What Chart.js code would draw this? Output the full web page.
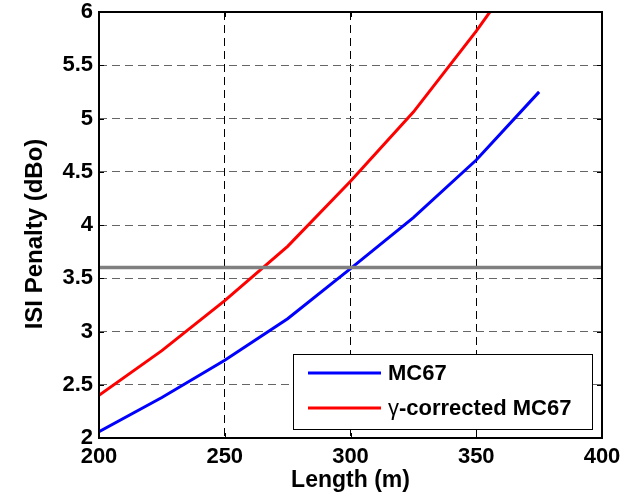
<!DOCTYPE html>
<html>
<head>
<meta charset="utf-8">
<script src="https://cdn.jsdelivr.net/npm/chart.js@4.4.1/dist/chart.umd.min.js"></script>
<style>
  html, body { margin: 0; padding: 0; background: #fff; }
  canvas { display: block; }
</style>
</head>
<body>
<canvas id="isi-chart" width="630" height="501"></canvas>
<script>
// fibre length (m) and ISI penalty (dBo) for both models
const lengths = [200, 225, 250, 275, 300, 325, 350, 375];
const mc67 = [2.06, 2.38, 2.73, 3.12, 3.59, 4.07, 4.61, 5.25];
const gammaMc67 = [2.40, 2.82, 3.29, 3.80, 4.41, 5.06, 5.82, 6.65];
const threshold = 3.6;
const seriesLabels = ['MC67', 'γ-corrected MC67'];
const seriesColors = ['#0000ff', '#ff0000'];
const xTicks = [200, 250, 300, 350, 400];
const yTicks = [2, 2.5, 3, 3.5, 4, 4.5, 5, 5.5, 6];

const FONT = "'Liberation Sans', Arial, sans-serif";
const toPoints = ys => ys.map((y, i) => ({ x: lengths[i], y: y }));

// box around the axes with small inward ticks on every side
const framePlugin = {
  id: 'frame',
  afterDatasetsDraw(chart) {
    const { ctx, chartArea: a, scales } = chart;
    ctx.save();
    ctx.strokeStyle = '#000';
    ctx.lineWidth = 1;
    ctx.beginPath();
    xTicks.forEach(v => {
      const px = Math.round(scales.x.getPixelForValue(v)) + 0.5;
      ctx.moveTo(px, a.bottom); ctx.lineTo(px, a.bottom - 5);
      ctx.moveTo(px, a.top); ctx.lineTo(px, a.top + 5);
    });
    yTicks.forEach(v => {
      const py = Math.round(scales.y.getPixelForValue(v)) + 0.5;
      ctx.moveTo(a.left, py); ctx.lineTo(a.left + 5, py);
      ctx.moveTo(a.right, py); ctx.lineTo(a.right - 5, py);
    });
    ctx.stroke();
    ctx.lineWidth = 2;
    ctx.strokeRect(a.left, a.top, a.right - a.left, a.bottom - a.top);
    ctx.restore();
  }
};

// label text where a leading greek letter is set in regular weight
function drawLegendText(ctx, text, x, y) {
  let cx = x;
  if (/^[α-ω]/.test(text)) {
    ctx.font = '22px ' + FONT;
    ctx.fillText(text[0], cx, y);
    cx += ctx.measureText(text[0]).width;
    text = text.slice(1);
  }
  ctx.font = 'bold 22px ' + FONT;
  ctx.fillText(text, cx, y);
}

// axis titles and the boxed legend in the lower right corner
const labelsPlugin = {
  id: 'labels',
  afterDraw(chart) {
    const { ctx, chartArea: a } = chart;
    ctx.save();
    ctx.fillStyle = '#000';

    ctx.font = 'bold 23px ' + FONT;
    ctx.textAlign = 'center';
    ctx.textBaseline = 'alphabetic';
    ctx.fillText('Length (m)', (a.left + a.right) / 2, 487);

    ctx.save();
    ctx.translate(42, 234);
    ctx.rotate(-Math.PI / 2);
    ctx.font = 'bold 24px ' + FONT;
    ctx.fillText('ISI Penalty (dBo)', 0, 0);
    ctx.restore();

    const box = { x: 293.5, y: 354.5, w: 299, h: 75 };
    ctx.fillStyle = '#fff';
    ctx.fillRect(box.x, box.y, box.w, box.h);
    ctx.strokeStyle = '#000';
    ctx.lineWidth = 1;
    ctx.strokeRect(box.x, box.y, box.w, box.h);

    const rows = [373, 408];
    ctx.textAlign = 'left';
    ctx.textBaseline = 'middle';
    seriesLabels.forEach((label, i) => {
      ctx.strokeStyle = seriesColors[i];
      ctx.lineWidth = 3;
      ctx.beginPath();
      ctx.moveTo(308, rows[i]);
      ctx.lineTo(381, rows[i]);
      ctx.stroke();
      ctx.fillStyle = '#000';
      drawLegendText(ctx, label, 388, rows[i] + 1);
    });
    ctx.restore();
  }
};

const tickFont = { family: FONT, size: 22, weight: 'bold' };

new Chart(document.getElementById('isi-chart').getContext('2d'), {
  type: 'line',
  data: {
    datasets: [
      {
        label: 'threshold',
        data: [{ x: 200, y: threshold }, { x: 400, y: threshold }],
        borderColor: '#808080',
        borderWidth: 3.5,
        pointRadius: 0,
        order: 0
      },
      {
        label: seriesLabels[0],
        data: toPoints(mc67),
        borderColor: seriesColors[0],
        borderWidth: 3,
        pointRadius: 0,
        clip: 0,
        order: 1
      },
      {
        label: seriesLabels[1],
        data: toPoints(gammaMc67),
        borderColor: seriesColors[1],
        borderWidth: 3,
        pointRadius: 0,
        clip: 0,
        order: 2
      }
    ]
  },
  options: {
    responsive: false,
    animation: false,
    events: [],
    layout: { padding: { top: 12, right: 28, left: 0, bottom: 0 } },
    plugins: {
      legend: { display: false },
      tooltip: { enabled: false }
    },
    scales: {
      x: {
        type: 'linear',
        min: 200,
        max: 400,
        afterBuildTicks: s => { s.ticks = xTicks.map(v => ({ value: v })); },
        afterFit: s => { s.height = 63; s.paddingLeft = 0; s.paddingRight = 0; },
        grid: { color: '#000', lineWidth: 1, drawTicks: false },
        border: { display: false, dash: [8, 5] },
        ticks: { font: tickFont, color: '#000', padding: 6, maxRotation: 0, callback: v => String(v) }
      },
      y: {
        type: 'linear',
        min: 2,
        max: 6,
        afterBuildTicks: s => { s.ticks = yTicks.map(v => ({ value: v })); },
        afterFit: s => { s.width = 99; s.paddingTop = 0; s.paddingBottom = 0; },
        grid: { color: '#666', lineWidth: 1, drawTicks: false },
        border: { display: false, dash: [8, 5] },
        ticks: { font: tickFont, color: '#000', padding: 6, callback: v => String(v) }
      }
    }
  },
  plugins: [framePlugin, labelsPlugin]
});
</script>
</body>
</html>
